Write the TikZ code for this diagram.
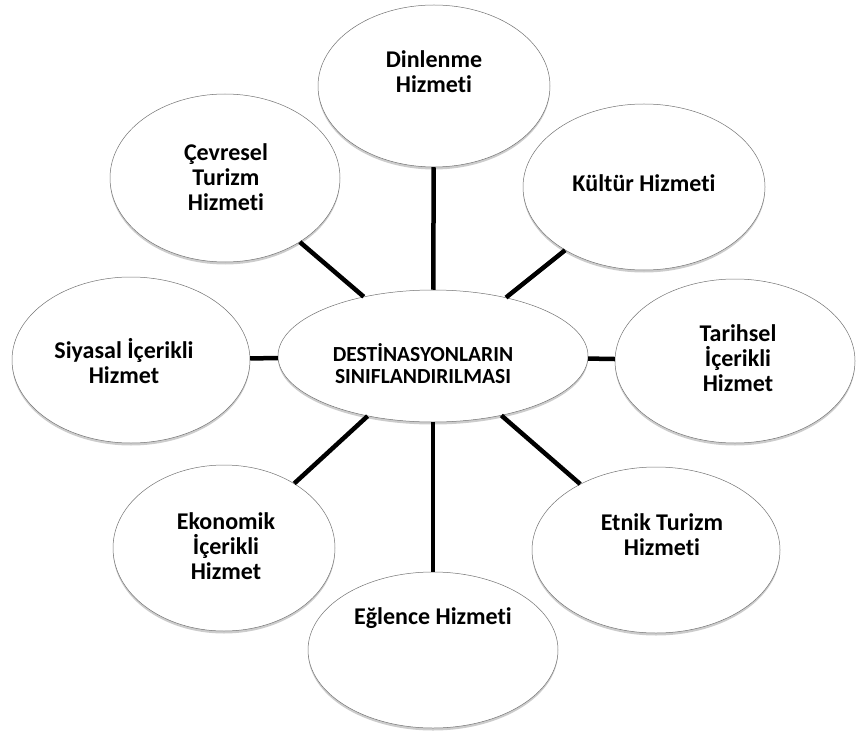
\documentclass[tikz,border=0pt]{standalone}
\usepackage{fontspec}
\setmainfont{Carlito}[Ligatures=NoCommon]
\usetikzlibrary{positioning, shapes.geometric, shadows}

\begin{document}
\begin{tikzpicture}[x=1pt, y=-1pt,
  bubble/.style={ellipse, draw=black!55, line width=0.5pt, fill=white,
                 drop shadow={shadow xshift=0pt, shadow yshift=-2.5pt, fill=black, opacity=0.2}},
  txt/.style={font=\bfseries\fontsize{24}{25}\selectfont, align=center},
  ctxt/.style={font=\bfseries\fontsize{21.5}{22}\selectfont, align=center},
  spoke/.style={line width=4.5pt, black}]

  \useasboundingbox (0,0) rectangle (856,735);

  % centre
  \node[bubble, minimum width=310pt, minimum height=132pt,
        label={[ctxt, name=centre-txt, xshift=-10pt, yshift=-8pt]center:{DESTİNASYONLARIN\\SINIFLANDIRILMASI}}]
        (centre) at (433,356) {};

  % outer services
  \node[bubble, minimum width=232pt, minimum height=162pt,
        label={[txt, name=din-txt, yshift=14pt]center:{Dinlenme\\Hizmeti}}] (din) at (434,86) {};
  \node[bubble, minimum width=242pt, minimum height=166pt,
        label={[txt, name=kul-txt, yshift=4pt]center:{Kültür Hizmeti}}] (kul) at (644,187) {};
  \node[bubble, minimum width=240pt, minimum height=164pt,
        label={[txt, name=tar-txt, xshift=3pt, yshift=3pt]center:{Tarihsel\\İçerikli\\Hizmet}}] (tar) at (735,361) {};
  \node[bubble, minimum width=248pt, minimum height=166pt,
        label={[txt, name=etn-txt, xshift=6pt, yshift=15pt]center:{Etnik Turizm\\Hizmeti}}] (etn) at (656,550) {};
  \node[bubble, minimum width=250pt, minimum height=156pt,
        label={[txt, name=egl-txt, yshift=32pt]center:{Eğlence Hizmeti}}] (egl) at (433,650) {};
  \node[bubble, minimum width=222pt, minimum height=166pt,
        label={[txt, name=eko-txt, xshift=2pt, yshift=2pt]center:{Ekonomik\\İçerikli\\Hizmet}}] (eko) at (224,548) {};
  \node[bubble, minimum width=238pt, minimum height=166pt,
        label={[txt, name=siy-txt, xshift=-7pt, yshift=-1pt]center:{Siyasal İçerikli\\Hizmet}}] (siy) at (131,360) {};
  \node[bubble, minimum width=230pt, minimum height=168pt,
        label={[txt, name=cev-txt, xshift=1pt, yshift=1pt]center:{Çevresel\\Turizm\\Hizmeti}}] (cev) at (225,178) {};

  % spokes
  \foreach \n in {din, kul, tar, etn, egl, eko, siy, cev}
    \draw[spoke] (centre) -- (\n);

\end{tikzpicture}
\end{document}
